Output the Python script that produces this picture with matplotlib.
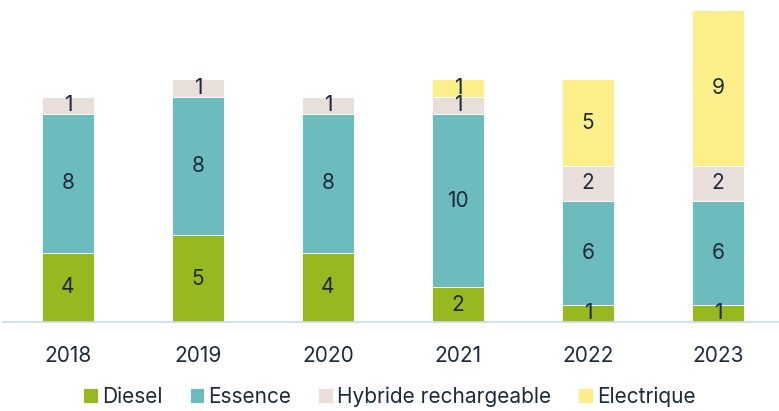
import numpy as np
import matplotlib
matplotlib.use("Agg")
import matplotlib.pyplot as plt

years = ["2018", "2019", "2020", "2021", "2022", "2023"]
diesel = [4, 5, 4, 2, 1, 1]
essence = [8, 8, 8, 10, 6, 6]
hybride = [1, 1, 1, 1, 2, 2]
electrique = [0, 0, 0, 1, 5, 9]

series = [
    ("Diesel", diesel, "#97b81f"),
    ("Essence", essence, "#6cbbbd"),
    ("Hybride rechargeable", hybride, "#e8dfdb"),
    ("Electrique", electrique, "#fcef8a"),
]
text_col = "#1e2a3b"

plt.rcParams["font.family"] = ["Inter", "DejaVu Sans"]

fig = plt.figure(figsize=(7.79, 4.11), dpi=100)
ax = fig.add_axes([3 / 779, 89 / 411, 780 / 779, 312 / 411])

x = np.arange(len(years))
bottom = np.zeros(len(years))
for name, vals, col in series:
    vals = np.array(vals, dtype=float)
    ax.bar(x, vals, 0.4, bottom=bottom, color=col, label=name,
           edgecolor="white", linewidth=0.6)
    for xi, b, v in zip(x, bottom, vals):
        if v > 0:
            ax.text(xi, b + v / 2, f"{int(v)}", ha="center", va="center",
                    fontsize=15, color=text_col)
    bottom += vals

ax.set_xlim(-0.5, 5.5)
ax.set_ylim(0, 18)
ax.set_yticks([])
ax.set_xticks(x)
ax.set_xticklabels(years, fontsize=15, color=text_col)
ax.tick_params(axis="x", length=0, pad=17)
for s in ["top", "right", "left"]:
    ax.spines[s].set_visible(False)
ax.spines["bottom"].set_color("#c9dcee")
ax.spines["bottom"].set_linewidth(1.2)

fig.legend(loc="lower center", bbox_to_anchor=(0.5, -0.035), ncol=4,
           frameon=False, fontsize=15, handlelength=0.7, handleheight=0.7,
           handletextpad=0.2, columnspacing=1.3, labelcolor=text_col)

fig.savefig("out.png", dpi=100)
